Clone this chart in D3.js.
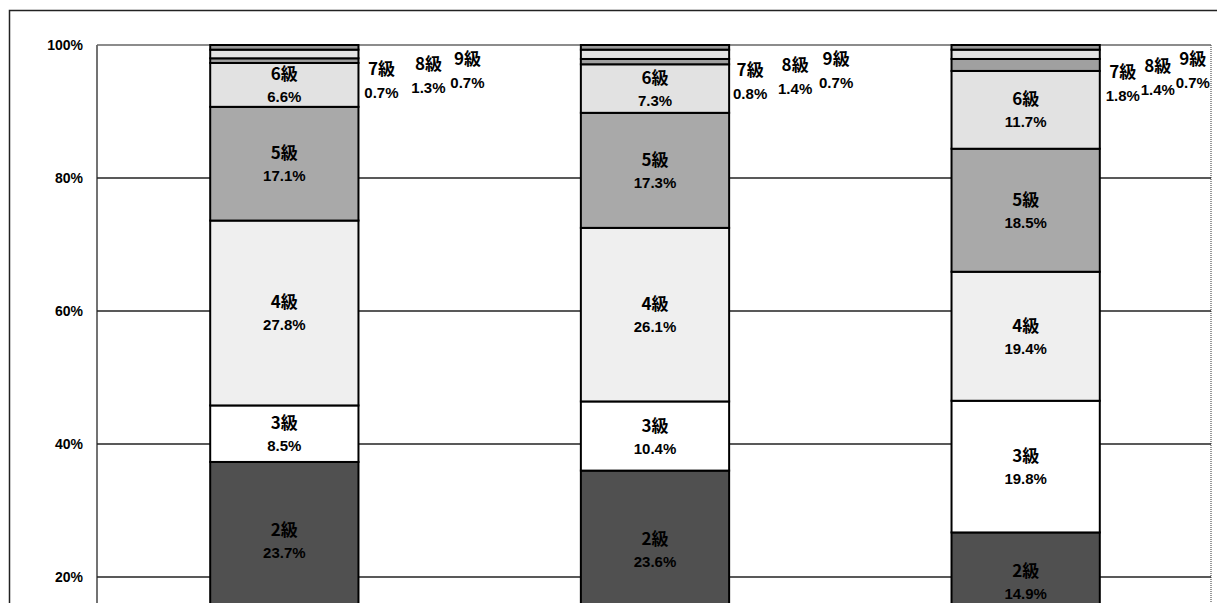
<!DOCTYPE html>
<html>
<head>
<meta charset="utf-8">
<script src="https://cdn.jsdelivr.net/npm/d3@7"></script>
<style>
  body { margin: 0; background: #fff; }
  text { font-family: "Noto Sans CJK JP", "Noto Sans", sans-serif; fill: #000; }
</style>
</head>
<body>
<svg id="chart" width="1217" height="603"></svg>
<script>
// bars (category names are cut off below the picture)
const categories = ["A", "B", "C"];
const grades = ["1級", "2級", "3級", "4級", "5級", "6級", "7級", "8級", "9級"];
// percent per grade, bottom to top (1級 hidden under the crop, derived from the rest)
const barA = [13.6, 23.7, 8.5, 27.8, 17.1, 6.6, 0.7, 1.3, 0.7];
const barB = [12.4, 23.6, 10.4, 26.1, 17.3, 7.3, 0.8, 1.4, 0.7];
const barC = [11.8, 14.9, 19.8, 19.4, 18.5, 11.7, 1.8, 1.4, 0.7];
const yTicks = [0.2, 0.4, 0.6, 0.8, 1];

const fills = ["#777", "#505050", "#fff", "#efefef", "#a9a9a9", "#e2e2e2", "#a0a0a0", "#e4e4e4", "#9a9a9a"];
// where the small 7/8/9 labels were dragged to, relative to each bar's right edge
const outsideDx = [[23, 70, 109], [21, 66, 107], [23, 58, 93]];
const outsideY = [[67, 62, 57], [68, 63, 57], [70, 64, 57]];

const svg = d3.select("#chart");
const W = 1217, H = 603;

const rows = categories.map((c, i) => {
  const vals = [barA, barB, barC][i];
  const r = { cat: c };
  grades.forEach((g, j) => r[g] = vals[j] / 100);
  return r;
});
const series = d3.stack().keys(grades)(rows);

const x = d3.scaleBand().domain(categories).range([99, 1211]).paddingInner(0.6).paddingOuter(0.3);
const y = d3.scaleLinear().domain([0, 1]).range([710, 45]);

// outer chart frame
svg.append("rect")
  .attr("x", 9.5).attr("y", 10.5)
  .attr("width", W + 20).attr("height", 700)
  .attr("fill", "none").attr("stroke", "#222").attr("stroke-width", 1.5);

// plot frame
svg.append("line").attr("x1", 97).attr("x2", 97).attr("y1", y(1)).attr("y2", H)
  .attr("stroke", "#444").attr("stroke-width", 1.5);
svg.append("line").attr("x1", 1211).attr("x2", 1211).attr("y1", y(1)).attr("y2", H)
  .attr("stroke", "#777").attr("stroke-width", 1.5).attr("stroke-dasharray", "1,1");

// gridlines
svg.append("g").selectAll("line").data(yTicks).join("line")
  .attr("x1", 97).attr("x2", 1211)
  .attr("y1", d => y(d)).attr("y2", d => y(d))
  .attr("stroke", d => d === 1 ? "#666" : "#222")
  .attr("stroke-width", 1.5);

// y axis labels
const yAxis = svg.append("g").attr("transform", "translate(97,0)")
  .call(d3.axisLeft(y).tickValues(yTicks).tickFormat(d3.format(".0%")).tickSize(0).tickPadding(14));
yAxis.select(".domain").remove();
yAxis.selectAll("text")
  .style("font-size", "14px").style("font-weight", "bold")
  .style("font-family", "'Liberation Sans', Arial, sans-serif");

// stacked segments
const segs = svg.append("g");
series.forEach((s, j) => {
  segs.selectAll(null).data(s).join("rect")
    .attr("x", d => x(d.data.cat))
    .attr("width", x.bandwidth())
    .attr("y", d => y(d[1]))
    .attr("height", d => y(d[0]) - y(d[1]))
    .attr("fill", fills[j])
    .attr("stroke", "#000")
    .attr("stroke-width", 2);
});

const pct = d => d3.format(".1f")((d[1] - d[0]) * 100) + "%";

// labels inside segments (2級..6級; 1級 lies below the visible area)
const lab = svg.append("g");
series.forEach((s, j) => {
  if (j > 5) return;
  s.forEach(d => {
    const cx = x(d.data.cat) + x.bandwidth() / 2;
    const cy = (y(d[0]) + y(d[1])) / 2;
    if (cy - 12 > H) return;
    lab.append("text").attr("x", cx).attr("y", cy - 12)
      .attr("text-anchor", "middle").attr("dominant-baseline", "central")
      .style("font-size", "17px").style("font-weight", "bold").text(grades[j]);
    lab.append("text").attr("x", cx).attr("y", cy + 12)
      .attr("text-anchor", "middle").attr("dominant-baseline", "central")
      .style("font-size", "15px").style("font-weight", "bold")
      .style("font-family", "'Liberation Sans Narrow', 'Liberation Sans', sans-serif")
      .text(pct(d));
  });
});

// small top grades labelled outside the bars
series.forEach((s, j) => {
  if (j < 6) return;
  s.forEach((d, i) => {
    const cx = x(d.data.cat) + x.bandwidth() + outsideDx[i][j - 6];
    const cy = outsideY[i][j - 6];
    lab.append("text").attr("x", cx).attr("y", cy)
      .attr("text-anchor", "middle").attr("dominant-baseline", "central")
      .style("font-size", "17px").style("font-weight", "bold").text(grades[j]);
    lab.append("text").attr("x", cx).attr("y", cy + 25)
      .attr("text-anchor", "middle").attr("dominant-baseline", "central")
      .style("font-size", "15px").style("font-weight", "bold")
      .style("font-family", "'Liberation Sans Narrow', 'Liberation Sans', sans-serif")
      .text(pct(d));
  });
});
</script>
</body>
</html>
